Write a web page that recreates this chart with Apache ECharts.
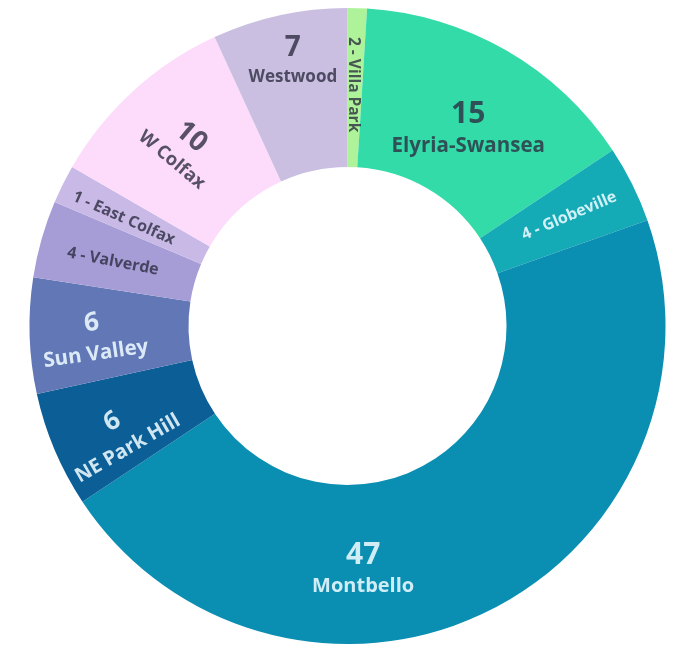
<!DOCTYPE html>
<html><head><meta charset="utf-8">
<script src="https://cdn.jsdelivr.net/npm/echarts@6/dist/echarts.min.js"></script>
<style>html,body{margin:0;padding:0;background:#fff}#chart{width:685px;height:647px}</style>
</head><body><div id="chart"></div>
<script>
// ---- data ----
const neighborhoods = ['Villa Park','Elyria-Swansea','Globeville','Montbello','NE Park Hill','Sun Valley','Valverde','East Colfax','W Colfax','Westwood'];
// slice sizes
const sliceValues = [1, 15, 4, 47, 6, 6, 4, 2, 10, 7];
// numbers printed in the labels
const labelCounts = [2, 15, 4, 47, 6, 6, 4, 1, 10, 7];
// 'big' = number above name, 'small' = "n - name" on one line
const labelKinds = ['small','big','small','big','big','big','small','small','big','big'];

// ---- style ----
const sliceColors = ['#aef29a','#33dba8','#14abb7','#0a8eb2','#0b5e96','#6177b6','#a69dd7','#c9b9e6','#fddcfb','#cabfe1'];
const lightText = [false,false,true,true,true,true,false,false,false,false];
const labelRotate = [-90, 0, 23, 0, 30, 8, -11, -24, -40, 0];
const labelShift = [[0,2],[0,12],[6,0],[-92,27],[-12,9],[-13,2],[-2,2],[-7,3],[-2,1],[-3,-30]];
const nameSize = [15.5, 20.5, 16, 20, 20, 20.5, 16, 16, 18.5, 17];
const numSize = [0, 30, 0, 30, 26, 26, 0, 0, 28, 28];

const DARK = 'rgba(45,45,65,0.8)';
const LIGHT = 'rgba(236,250,255,0.88)';

const data = neighborhoods.map((name, i) => {
  const col = lightText[i] ? LIGHT : DARK;
  const isBig = labelKinds[i] === 'big';
  return {
    name: name,
    value: sliceValues[i],
    itemStyle: { color: sliceColors[i] },
    label: {
      rotate: labelRotate[i],
      formatter: isBig ? ('{v|' + labelCounts[i] + '}\n{n|' + name + '}') : ('{s|' + labelCounts[i] + ' - ' + name + '}'),
      rich: {
        v: { fontFamily: 'Open Sans', fontWeight: 'bold', fontSize: numSize[i] || 28, color: col, lineHeight: 34, align: 'center' },
        n: { fontFamily: 'Open Sans', fontWeight: 'bold', fontSize: nameSize[i], color: col, lineHeight: nameSize[i] + 8, align: 'center' },
        s: { fontFamily: 'Open Sans', fontWeight: 'bold', fontSize: nameSize[i], color: col, align: 'center' }
      }
    }
  };
});

const chart = echarts.init(document.getElementById('chart'), null, { renderer: 'canvas' });
chart.setOption({
  backgroundColor: '#ffffff',
  animation: false,
  series: [{
    type: 'pie',
    center: [347.5, 326],
    radius: [159, 318],
    startAngle: 90,
    clockwise: true,
    avoidLabelOverlap: false,
    label: { show: true, position: 'inside' },
    labelLine: { show: false },
    emphasis: { disabled: true },
    labelLayout: function (p) {
      const s = labelShift[p.dataIndex];
      return { dx: s[0], dy: s[1] };
    },
    data: data
  }]
});
</script>
</body></html>
